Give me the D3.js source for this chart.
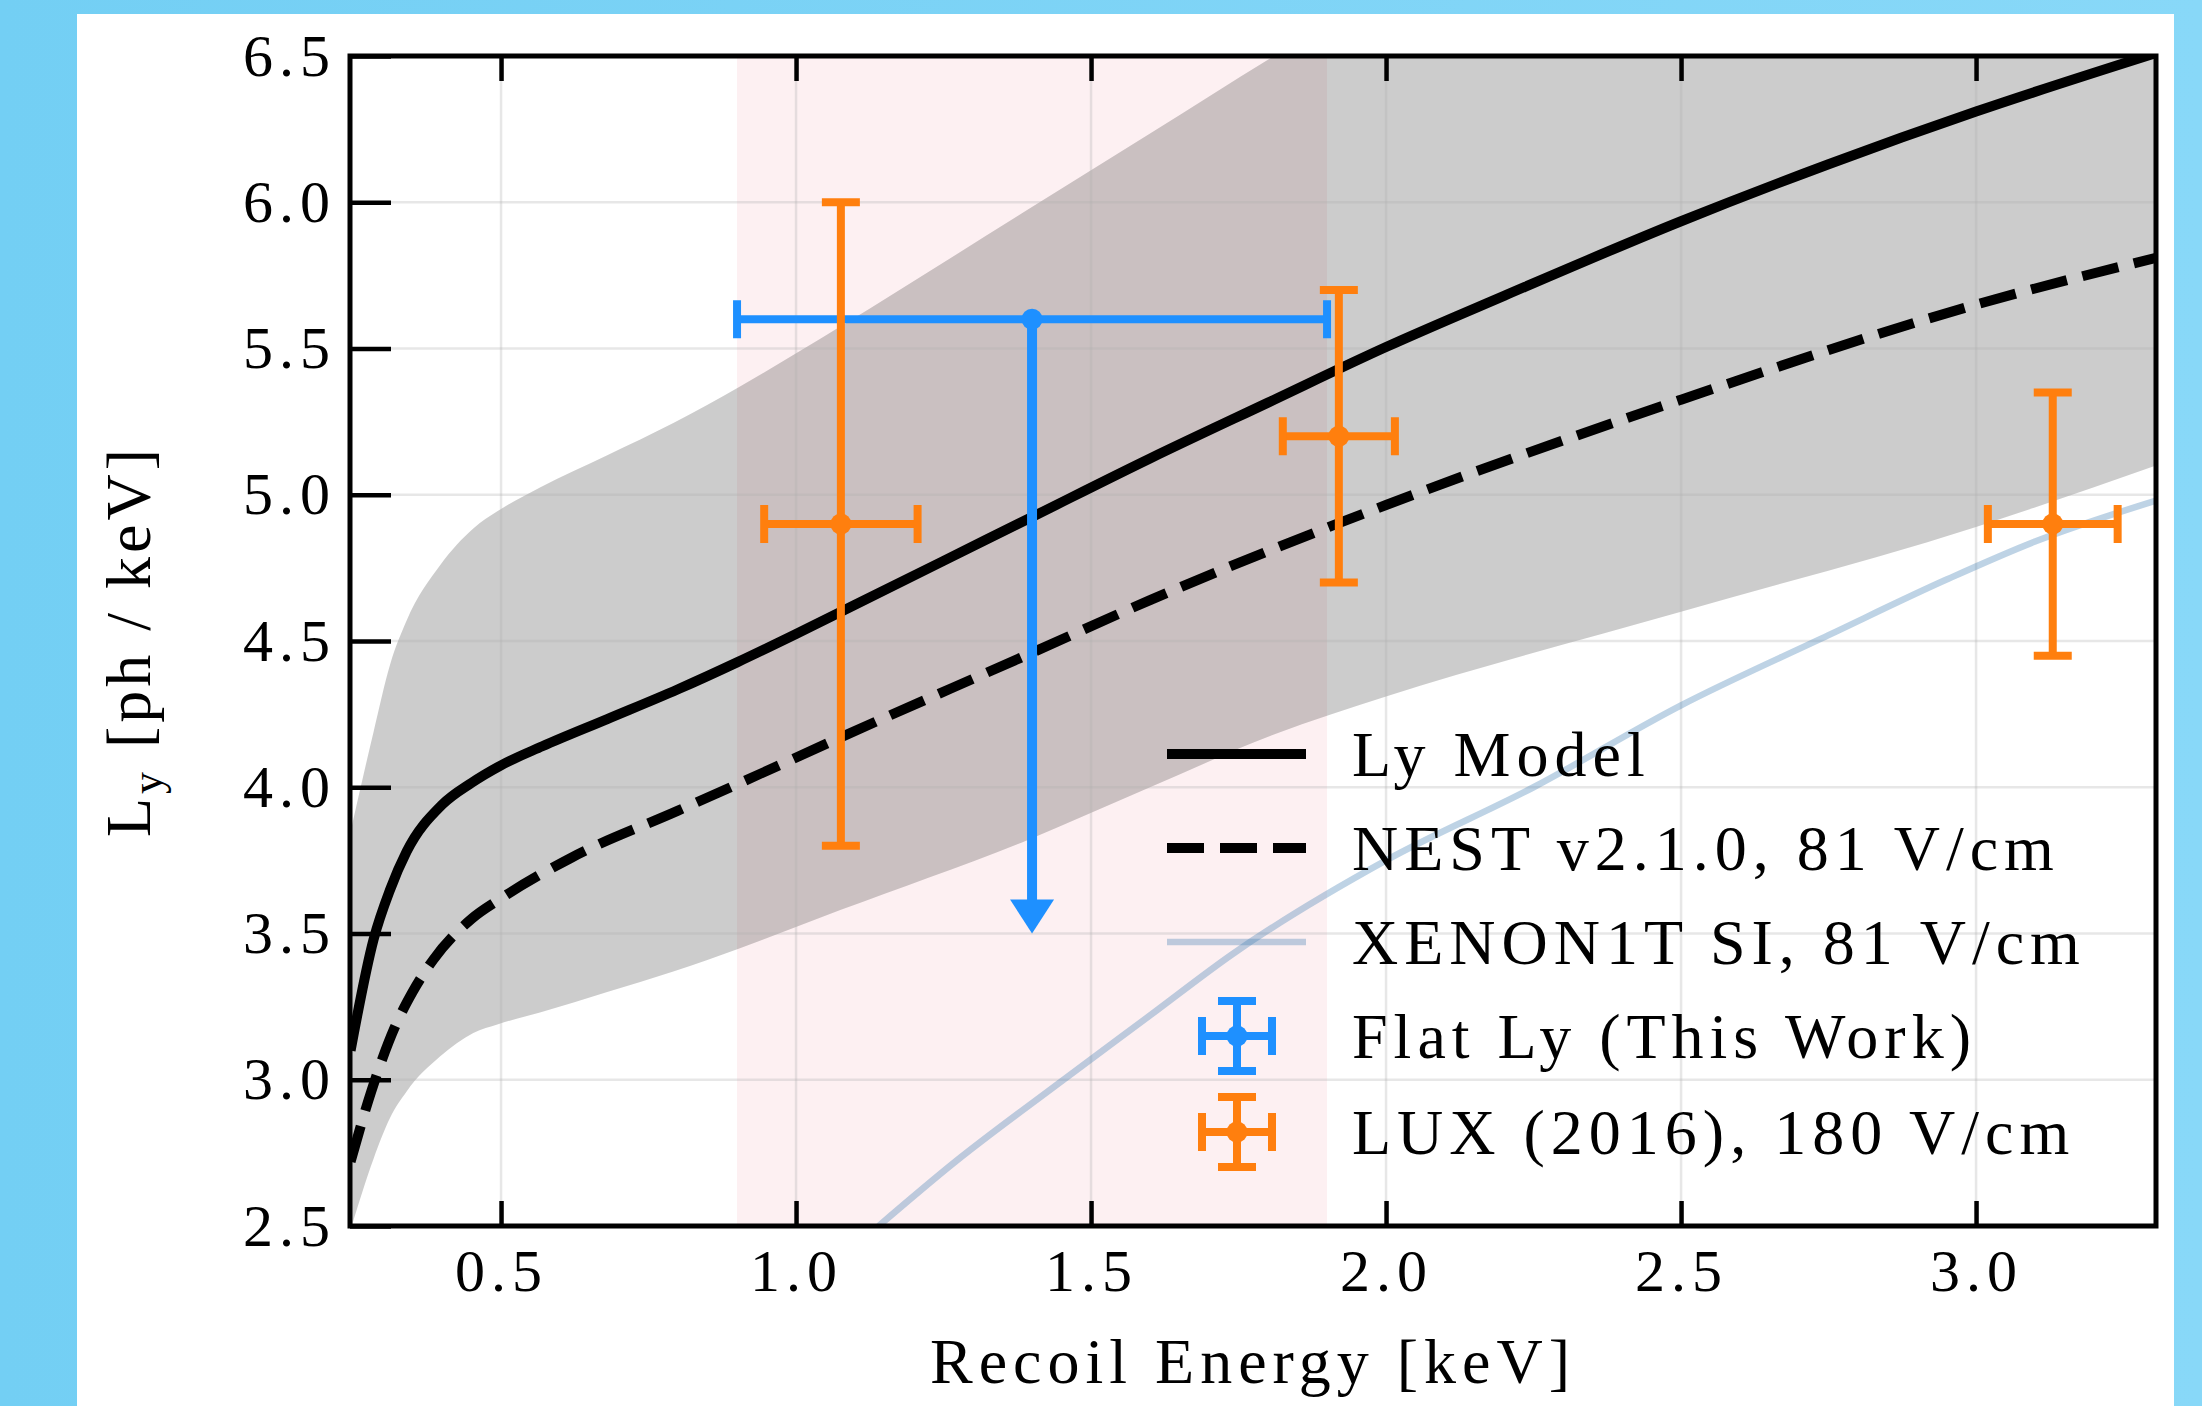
<!DOCTYPE html>
<meta charset="utf-8">
<script src="https://d3js.org/d3.v7.min.js"></script>
<style>
  body { margin: 0; }
  svg text { font-family: "Liberation Serif", "DejaVu Serif", serif; fill: #000; }
</style>
<body>
<div id="chart"></div>
<script>

// ---- data ----
var modelE  = [0.245, 0.284, 0.312, 0.34, 0.40, 0.45, 0.50, 0.57, 0.68, 0.80, 0.90, 1.00, 1.10, 1.25, 1.40, 1.60, 1.80, 2.00, 2.20, 2.50, 2.75, 3.00, 3.305];
var modelLy = [3.10, 3.48, 3.65, 3.78, 3.94, 4.015, 4.075, 4.14, 4.233, 4.335, 4.427, 4.524, 4.624, 4.774, 4.924, 5.124, 5.315, 5.505, 5.68, 5.935, 6.13, 6.31, 6.51];

var nestE  = [0.245, 0.28, 0.32, 0.35, 0.385, 0.45, 0.50, 0.62, 0.80, 0.90, 1.075, 1.40, 1.60, 1.91, 2.00, 2.50, 3.00, 3.305];
var nestLy = [2.72, 2.96, 3.18, 3.30, 3.41, 3.55, 3.62, 3.76, 3.92, 4.01, 4.17, 4.46, 4.64, 4.895, 4.965, 5.325, 5.65, 5.81];

var xenonE  = [1.14, 1.27, 1.44, 1.60, 1.74, 2.00, 2.25, 2.50, 2.75, 2.95, 3.10, 3.305];
var xenonLy = [2.50, 2.72, 2.98, 3.22, 3.43, 3.75, 4.00, 4.28, 4.52, 4.71, 4.84, 4.98];

var bandE  = [0.244, 0.284, 0.312, 0.34, 0.397, 0.453, 0.495, 0.566, 0.68, 0.792, 0.905, 1.075, 1.393, 1.60, 1.81, 2.00, 2.50, 3.00, 3.305];
var bandLo = [2.48, 2.73, 2.87, 2.96, 3.08, 3.16, 3.19, 3.23, 3.30, 3.37, 3.45, 3.58, 3.82, 4.00, 4.18, 4.31, 4.60, 4.89, 5.10];
var bandHi = [3.84, 4.19, 4.42, 4.57, 4.76, 4.885, 4.945, 5.025, 5.135, 5.245, 5.37, 5.575, 5.975, 6.235, 6.50, 6.73, 7.30, 7.90, 8.25];

var spanE = [0.9, 1.9];

var flatE = [1.4], flatLy = [5.6], flatEErr = [0.5], flatLimit = [3.5];

var luxE = [1.076, 1.92, 3.13];
var luxLy = [4.9, 5.2, 4.9];
var luxEErr = [0.13, 0.095, 0.11];
var luxLyErr = [1.1, 0.5, 0.45];

var xTicks = [0.5, 1.0, 1.5, 2.0, 2.5, 3.0];
var yTicks = [2.5, 3.0, 3.5, 4.0, 4.5, 5.0, 5.5, 6.0, 6.5];

var legendLabels = ["Ly Model", "NEST v2.1.0, 81 V/cm", "XENON1T SI, 81 V/cm", "Flat Ly (This Work)", "LUX (2016), 180 V/cm"];

var blue = "#1e90ff", orange = "#ff7f0e";

// ---- layout ----
var W = 2202, H = 1406;
var margin = {top: 56, right: 46, bottom: 180, left: 350};
var x = d3.scaleLinear().domain([0.244, 3.305]).range([margin.left, W - margin.right]);
var y = d3.scaleLinear().domain([2.5, 6.5]).range([H - margin.bottom, margin.top]);

var svg = d3.select("#chart").append("svg")
    .attr("width", W).attr("height", H);

var grad = svg.append("defs").append("linearGradient").attr("id", "bg");
grad.append("stop").attr("offset", "0%").attr("stop-color", "#73cff4");
grad.append("stop").attr("offset", "100%").attr("stop-color", "#88d8f8");
svg.append("rect").attr("width", W).attr("height", H).attr("fill", "url(#bg)");
svg.append("rect").attr("x", 77).attr("y", 14).attr("width", 2174 - 77).attr("height", H - 14).attr("fill", "#fff");

svg.select("defs").append("clipPath").attr("id", "clip")
  .append("rect")
    .attr("x", x.range()[0]).attr("y", y.range()[1])
    .attr("width", x.range()[1] - x.range()[0]).attr("height", y.range()[0] - y.range()[1]);

var plot = svg.append("g").attr("clip-path", "url(#clip)");

// pink span
plot.append("rect")
    .attr("x", x(spanE[0])).attr("width", x(spanE[1]) - x(spanE[0]))
    .attr("y", y.range()[1]).attr("height", y.range()[0] - y.range()[1])
    .attr("fill", "#fdf0f2");

// uncertainty band
var band = bandE.map(function(e, i) { return [e, bandLo[i], bandHi[i]]; });
plot.append("path")
    .datum(band)
    .attr("fill", "#000").attr("fill-opacity", 0.2)
    .attr("d", d3.area().curve(d3.curveMonotoneX)
      .x(function(d) { return x(d[0]); })
      .y0(function(d) { return y(d[1]); })
      .y1(function(d) { return y(d[2]); }));

// grid
plot.selectAll(".gx").data(xTicks).enter().append("line")
    .attr("x1", function(d) { return x(d); }).attr("x2", function(d) { return x(d); })
    .attr("y1", y.range()[0]).attr("y2", y.range()[1]);
plot.selectAll(".gy").data(yTicks).enter().append("line")
    .attr("y1", function(d) { return y(d); }).attr("y2", function(d) { return y(d); })
    .attr("x1", x.range()[0]).attr("x2", x.range()[1]);
plot.selectAll("line").attr("stroke", "#b0b0b0").attr("stroke-opacity", 0.3).attr("stroke-width", 2.5);

function pairs(xs, ys) { return xs.map(function(e, i) { return [e, ys[i]]; }); }
var line = d3.line().curve(d3.curveMonotoneX)
    .x(function(d) { return x(d[0]); })
    .y(function(d) { return y(d[1]); });

plot.append("path").datum(pairs(xenonE, xenonLy))
    .attr("fill", "none").attr("stroke", "steelblue").attr("stroke-opacity", 0.35)
    .attr("stroke-width", 6.5).attr("d", line);

plot.append("path").datum(pairs(nestE, nestLy))
    .attr("fill", "none").attr("stroke", "#000").attr("stroke-width", 10)
    .attr("stroke-dasharray", "37,16").attr("d", line);

plot.append("path").datum(pairs(modelE, modelLy))
    .attr("fill", "none").attr("stroke", "#000").attr("stroke-width", 10)
    .attr("d", line);

// error bar helper (pixel coords)
var cap = 19;
function errbar(g, cx, cy, x0, x1, y0, y1, color) {
  var s = g.append("g").attr("stroke", color).attr("stroke-width", 8);
  s.append("line").attr("x1", x0).attr("x2", x1).attr("y1", cy).attr("y2", cy);
  s.append("line").attr("x1", x0).attr("x2", x0).attr("y1", cy - cap).attr("y2", cy + cap);
  s.append("line").attr("x1", x1).attr("x2", x1).attr("y1", cy - cap).attr("y2", cy + cap);
  if (y0 != null) {
    s.append("line").attr("x1", cx).attr("x2", cx).attr("y1", y0).attr("y2", y1);
    s.append("line").attr("x1", cx - cap).attr("x2", cx + cap).attr("y1", y0).attr("y2", y0);
    s.append("line").attr("x1", cx - cap).attr("x2", cx + cap).attr("y1", y1).attr("y2", y1);
  }
  g.append("circle").attr("cx", cx).attr("cy", cy).attr("r", 10.5).attr("fill", color);
}

// flat Ly (this work) with upper-limit arrow
flatE.forEach(function(e, i) {
  var cx = x(e), cy = y(flatLy[i]), tip = y(flatLimit[i]);
  var headLen = 34, headW = 22;
  plot.append("line").attr("x1", cx).attr("x2", cx).attr("y1", cy).attr("y2", tip - headLen + 2)
      .attr("stroke", blue).attr("stroke-width", 10);
  plot.append("path")
      .attr("d", "M" + (cx - headW) + "," + (tip - headLen) + "L" + (cx + headW) + "," + (tip - headLen) + "L" + cx + "," + tip + "Z")
      .attr("fill", blue);
  errbar(plot, cx, cy, x(e - flatEErr[i]), x(e + flatEErr[i]), null, null, blue);
});

// LUX points
luxE.forEach(function(e, i) {
  errbar(plot, x(e), y(luxLy[i]), x(e - luxEErr[i]), x(e + luxEErr[i]),
         y(luxLy[i] - luxLyErr[i]), y(luxLy[i] + luxLyErr[i]), orange);
});

// ---- axes ----
var fmt = d3.format(".1f");
var xAxisB = svg.append("g").attr("transform", "translate(0," + y.range()[0] + ")")
    .call(d3.axisBottom(x).tickValues(xTicks).tickFormat(fmt).tickSizeInner(-25).tickSizeOuter(0).tickPadding(22));
var xAxisT = svg.append("g").attr("transform", "translate(0," + y.range()[1] + ")")
    .call(d3.axisTop(x).tickValues(xTicks).tickFormat("").tickSizeInner(-25).tickSizeOuter(0));
var yAxisL = svg.append("g").attr("transform", "translate(" + x.range()[0] + ",0)")
    .call(d3.axisLeft(y).tickValues(yTicks).tickFormat(fmt).tickSizeInner(-41).tickSizeOuter(0).tickPadding(14));

[xAxisB, xAxisT, yAxisL].forEach(function(a) {
  a.select(".domain").remove();
  a.selectAll(".tick line").attr("stroke", "#000").attr("stroke-width", 4.5);
  a.selectAll(".tick text").attr("font-family", null).style("font-size", "60px").style("letter-spacing", "6px");
});

svg.append("rect")
    .attr("x", x.range()[0]).attr("y", y.range()[1])
    .attr("width", x.range()[1] - x.range()[0]).attr("height", y.range()[0] - y.range()[1])
    .attr("fill", "none").attr("stroke", "#000").attr("stroke-width", 5);

// axis labels
svg.append("text")
    .attr("x", (x.range()[0] + x.range()[1]) / 2).attr("y", 1383)
    .attr("text-anchor", "middle")
    .style("font-size", "64px").style("letter-spacing", "6px")
    .text("Recoil Energy [keV]");

var yl = svg.append("text")
    .attr("transform", "translate(150," + ((y.range()[0] + y.range()[1]) / 2) + ") rotate(-90)")
    .attr("text-anchor", "middle")
    .style("font-size", "64px").style("letter-spacing", "4px");
yl.append("tspan").text("L");
yl.append("tspan").attr("dy", 12).style("font-size", "44px").text("y");
yl.append("tspan").attr("dy", -12).text(" [ph / keV]");

// ---- legend ----
var legY = [754, 848, 942, 1036, 1132];
var lg = svg.append("g");
lg.append("line").attr("x1", 1167).attr("x2", 1306).attr("y1", legY[0]).attr("y2", legY[0])
    .attr("stroke", "#000").attr("stroke-width", 10);
lg.append("line").attr("x1", 1167).attr("x2", 1306).attr("y1", legY[1]).attr("y2", legY[1])
    .attr("stroke", "#000").attr("stroke-width", 10).attr("stroke-dasharray", "37,16");
lg.append("line").attr("x1", 1167).attr("x2", 1306).attr("y1", legY[2]).attr("y2", legY[2])
    .attr("stroke", "steelblue").attr("stroke-opacity", 0.35).attr("stroke-width", 6.5);
errbar(lg, 1237, legY[3], 1202, 1272, legY[3] - 35, legY[3] + 35, blue);
errbar(lg, 1237, legY[4], 1202, 1272, legY[4] - 35, legY[4] + 35, orange);

lg.selectAll("text.leg").data(legendLabels).enter().append("text")
    .attr("x", 1352).attr("y", function(d, i) { return legY[i]; })
    .attr("dy", "0.35em")
    .style("font-size", "64px").style("letter-spacing", "6px")
    .text(function(d) { return d; });

</script>
</body>
